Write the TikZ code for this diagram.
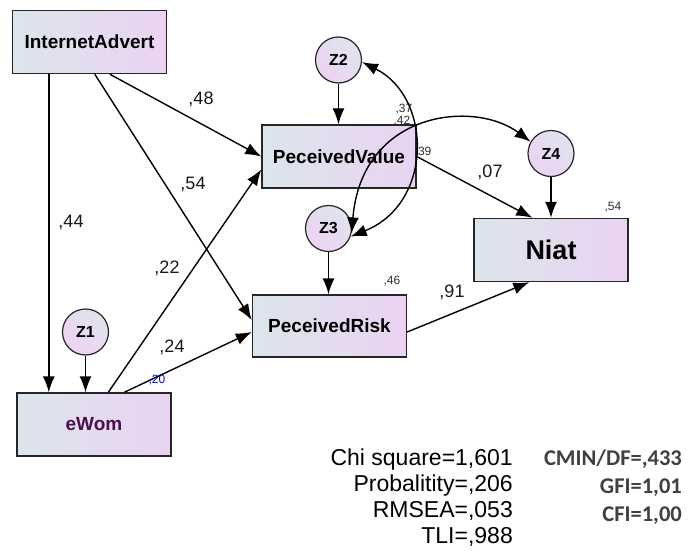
\documentclass[tikz,border=0pt]{standalone}
\usepackage{fontspec}
\setmainfont{Liberation Sans}
\newfontfamily\calib{Carlito}
\usetikzlibrary{arrows.meta,backgrounds}
\definecolor{boxl}{RGB}{220,229,236}
\definecolor{boxr}{RGB}{234,211,242}
\definecolor{cirl}{RGB}{222,228,238}
\definecolor{cirr}{RGB}{238,210,243}
\definecolor{ewomc}{RGB}{75,16,80}
\definecolor{fitc}{RGB}{64,64,64}
\definecolor{smallc}{RGB}{45,45,45}
\begin{document}
\begin{tikzpicture}[x=1pt,y=-1pt,
  box/.style={draw=black!85, line width=1.4pt, left color=boxl, right color=boxr,
    minimum width=154pt, minimum height=63pt, inner sep=0pt,
    font=\bfseries\fontsize{19}{22}\selectfont},
  err/.style={circle, draw=black!85, line width=1.2pt, left color=cirl, right color=cirr,
    shading angle=-45, minimum size=46pt, inner sep=0pt,
    font=\bfseries\fontsize{16}{18}\selectfont},
  arr/.style={line width=1.4pt, -{Latex[length=16pt,width=12pt]}},
  cov/.style={line width=1.4pt, {Latex[length=16pt,width=12pt]}-{Latex[length=16pt,width=12pt]}},
  lbl/.style={inner sep=0pt, font=\fontsize{18}{20}\selectfont, text=black!90},
  sml/.style={inner sep=0pt, font=\fontsize{12}{13}\selectfont, text=smallc},
  fitl/.style={inner sep=0pt, anchor=base east, font=\fontsize{23}{26}\selectfont},
  fitr/.style={inner sep=0pt, anchor=base east, font=\calib\bfseries\fontsize{22.5}{26}\selectfont, text=fitc}]
\useasboundingbox (0,0) rectangle (689,551);

% nodes
\node[box] (IA) at (89.5,42) {InternetAdvert};
\node[box] (PV) at (339,156.5) {PeceivedValue};
\node[box, minimum height=62pt] (PR) at (329.5,326) {PeceivedRisk};
\node[box, font=\bfseries\fontsize{27}{30}\selectfont] (NI) at (551,250) {Niat};
\node[box, text=ewomc] (EW) at (94,424.5) {eWom};
\node[err] (Z1) at (85.5,332) {Z1};
\node[err] (Z2) at (338.5,60) {Z2};
\node[err] (Z3) at (328.5,228.5) {Z3};
\node[err] (Z4) at (551,153.5) {Z4};

% labels (under the boxes)
\begin{scope}[on background layer]
\fill[white] (0,0) rectangle (689,551);
\node[lbl] (l48) at (201,99) {,48};
\node[lbl] (l54) at (193,184) {,54};
\node[lbl] (l44) at (71,222) {,44};
\node[lbl] (l22) at (167,268) {,22};
\node[lbl] (l24) at (172,347) {,24};
\node[lbl] (l07) at (490,172) {,07};
\node[lbl] (l91) at (452,292) {,91};
\node[sml, text=blue] (l20) at (157,380) {,20};
\node[sml] (l46) at (392,281) {,46};
\node[sml] (l54s) at (613,207) {,54};
\node[sml, anchor=west] (l39) at (414.5,152) {,39};
\node[sml] (l37) at (404,109) {,37};
\node[sml] (l42) at (402,121) {,42};
\end{scope}

% fit statistics
\node[fitl] (s1) at (513,465) {Chi square=1,601};
\node[fitl] (s2) at (513,491) {Probalitity=,206};
\node[fitl] (s3) at (513,517) {RMSEA=,053};
\node[fitl] (s4) at (513,543) {TLI=,988};
\node[fitr] (r1) at (682,465) {CMIN/DF=,433};
\node[fitr] (r2) at (682,493) {GFI=1,01};
\node[fitr] (r3) at (682,521) {CFI=1,00};

% connectors
\draw[arr] ([xshift=37pt]IA.south west) coordinate (a1) -- (a1 |- EW.north);
\draw[arr] (Z1.south) -- (Z1.south |- EW.north);
\draw[arr] ([xshift=98pt]IA.south west) -- (PV.west);
\draw[arr] ([xshift=83pt]IA.south west) -- ([yshift=6pt]PR.west);
\draw[arr] ([xshift=92pt]EW.north west) -- ([yshift=-13pt]PV.west);
\draw[arr] ([xshift=108pt]EW.north west) -- ([yshift=-6pt]PR.west);
\draw[arr] (PV.east) -- ([xshift=59pt]NI.north west);
\draw[arr] ([yshift=-6pt]PR.east) -- ([xshift=56pt]NI.south west);
\draw[arr] (Z2.south) -- (Z2.south |- PV.north);
\draw[arr] (Z3.south) -- (Z3.south |- PR.north);
\draw[arr] (Z4.south) -- (Z4.south |- NI.north);
\draw[cov] (Z2.-5) .. controls (432,97) and (434,203) .. (Z3.-20);
\draw[cov] (Z3.-12) .. controls (362,110) and (475,100) .. (Z4.150);
\end{tikzpicture}
\end{document}
